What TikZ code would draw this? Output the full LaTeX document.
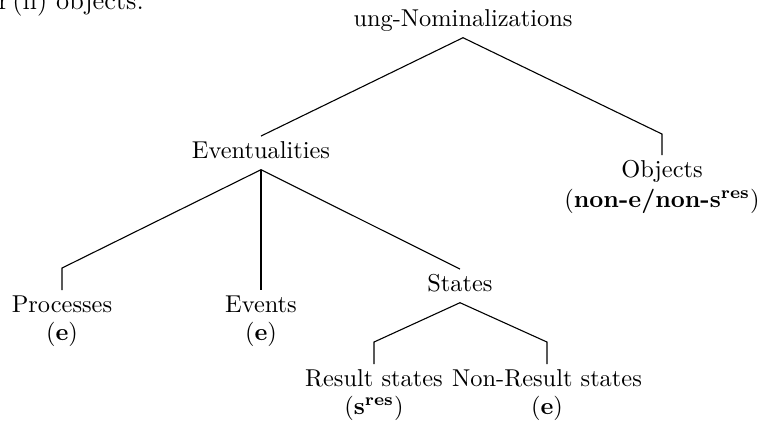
\documentclass[tikz,border=0pt]{standalone}
\usetikzlibrary{calc}
\begin{document}
\begin{tikzpicture}[x=0.41pt,y=0.41pt,
  lab/.style={anchor=base, inner sep=1.8pt, text height=7pt, text depth=2.8pt},
  sub/.style={anchor=base, inner sep=0pt},
  edge/.style={draw=black, line width=0.45pt}]
\useasboundingbox (0,0) rectangle (762,421);
% fragment of the preceding sentence
\node[anchor=base west, inner sep=0pt, font=\fontsize{11}{13}\selectfont] (frag) at (-2,412) {r\hspace{1.5pt}(ii) objects.};
% tree labels
\node[lab] (root) at (463,395) {ung-Nominalizations};
\node[lab] (ev) at (261,263) {Eventualities};
\node[lab] (obj) at (662,244) {Objects};
\node[sub] (obj2) at (662,214) {(\textbf{non-e/non-s\textsuperscript{res}})};
\node[lab] (proc) at (62,109) {Processes};
\node[sub] (proc2) at (62,81) {(\textbf{e})};
\node[lab] (evt) at (261,109) {Events};
\node[sub] (evt2) at (261,81) {(\textbf{e})};
\node[lab] (st) at (460,130) {States};
\node[lab] (res) at (374,35) {Result states};
\node[sub] (res2) at (374,7) {(\textbf{s\textsuperscript{res}})};
\node[lab] (nres) at (547,35) {Non-Result states};
\node[sub] (nres2) at (547,7) {(\textbf{e})};
% edges
\draw[edge] (root.south) -- (ev.north);
\draw[edge] (root.south) -- ($(obj.north)+(0,21)$) -- (obj.north);
\draw[edge] (ev.south) -- ($(proc.north)+(0,22)$) -- (proc.north);
\draw[edge] (ev.south) -- (evt.north);
\draw[edge] (ev.south) -- (st.north);
\draw[edge] (st.south) -- ($(res.north)+(0,22)$) -- (res.north);
\draw[edge] (st.south) -- ($(nres.north)+(0,22)$) -- (nres.north);
\end{tikzpicture}
\end{document}
